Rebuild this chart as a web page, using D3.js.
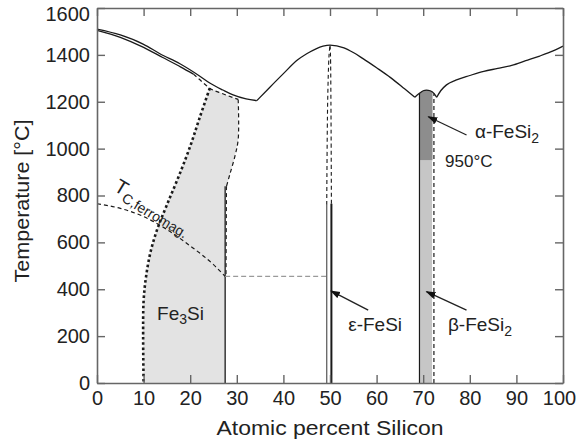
<!DOCTYPE html>
<html>
<head>
<meta charset="utf-8">
<script src="https://cdn.jsdelivr.net/npm/d3@7"></script>
<style>
  body { margin: 0; background: #fff; }
  svg { font-family: "Liberation Sans", Arial, Helvetica, sans-serif; }
</style>
</head>
<body>
<script>
// Fe-Si phase diagram, points are [at.% Si, temperature in C]
const xTicks = d3.range(0, 101, 10);
const yTicks = d3.range(0, 1601, 200);

const liquidusFe = [[0,1510],[5,1485],[10,1445],[13.5,1405],[17.8,1362],[22,1310],[24.2,1280],[27,1250],[29.2,1229],[32,1212],[34.3,1205]];
const solidusFe = [[0,1505],[5,1475],[10,1432],[14,1390],[18,1348],[20.7,1318]];
const solidusFeDash = [[20.7,1318],[22.5,1286],[24.2,1258],[27,1234],[30.3,1210]];
const liquidusMid = [[34.3,1205],[37,1260],[40,1320],[43,1378],[45,1405],[47,1426],[48.5,1437],[50,1442],[53,1430],[55,1410],[57,1385],[60,1345],[63,1303],[66,1255],[68.2,1219]];
const capFeSi2 = [[68.2,1219],[69.2,1236],[70,1247],[70.7,1250],[71.5,1247],[72.3,1236],[72.9,1219]];
const liquidusSi = [[72.9,1219],[73.8,1248],[75,1272],[77,1292],[80,1312],[83,1330],[86,1342],[89,1355],[92,1375],[95,1395],[98,1418],[100,1437]];

const fe3siLeft = [[24.2,1258],[22,1130],[20,1010],[17.5,880],[15,760],[13,660],[11.5,560],[10.5,450],[10,350],[9.9,200],[10,0]];
const fe3siRightDash = [[30.3,1210],[30.3,1040],[29.5,960],[28.5,890],[27.8,840]];
const fe3siRightDash2 = [[27.8,840],[27.7,455]];
const fe3siRight = [[27.5,840],[27.5,0]];
const fe3siTop = [[30.3,1210],[27,1234],[24.2,1258]];
const curie = [[0,765],[5,745],[10,710],[15,655],[20,585],[25,505],[27.5,455]];
const orderLine = [[27.5,455],[49.3,455]];

const fesiLeft = [[49.3,0],[49.3,760]];
const fesiLeftDash = [[49.3,760],[49.5,1200],[49.8,1400],[50,1442]];
const fesiRight = [[50.3,0],[50.3,765]];
const fesiRightDash = [[50.3,765],[50.2,1200],[50.1,1400],[50,1442]];

const fesi2Left = [[69.2,0],[69.2,1236]];
const fesi2RightDash = [[72.3,0],[72.3,1236]];
const alphaArea = [[69.2,950],[69.2,1236],[70,1247],[70.7,1250],[71.5,1247],[72,1240],[72,950]];
const betaArea = [[69.2,0],[69.2,950],[71.9,950],[71.9,0]];

const arrows = [
  [[79.3,1058],[71.1,1136]],
  [[58.2,311],[50.2,393]],
  [[79.3,311],[70.7,390]]
];

const width = 576, height = 442;
const x = d3.scaleLinear().domain([0, 100]).range([97, 563]);
const y = d3.scaleLinear().domain([0, 1600]).range([383, 8]);

const svg = d3.select("body").append("svg")
  .attr("width", width).attr("height", height);

const line = d3.line().x(d => x(d[0])).y(d => y(d[1]));
const smooth = d3.line().x(d => x(d[0])).y(d => y(d[1])).curve(d3.curveMonotoneX);
const smoothY = d3.line().x(d => x(d[0])).y(d => y(d[1])).curve(d3.curveCatmullRom);

svg.append("defs").append("marker")
  .attr("id", "head")
  .attr("markerUnits", "userSpaceOnUse")
  .attr("markerWidth", 10).attr("markerHeight", 8)
  .attr("refX", 9).attr("refY", 3.5)
  .attr("orient", "auto")
  .append("path").attr("d", "M0,0L10,3.5L0,7Z").attr("fill", "#111");

// fills
const fe3siArea = fe3siLeft.concat([[27.5,0],[27.5,840]], fe3siRightDash.slice().reverse(), fe3siTop.slice(1));
svg.append("path").attr("d", line(fe3siArea) + "Z").attr("fill", "#e3e3e3");
svg.append("path").attr("d", line(betaArea) + "Z").attr("fill", "#c6c6c6");
svg.append("path").attr("d", smooth(alphaArea) + "Z").attr("fill", "#8d8d8d");

function draw(pts, gen, opts) {
  return svg.append("path")
    .attr("d", gen(pts))
    .attr("fill", "none")
    .attr("stroke", opts.color || "#1a1a1a")
    .attr("stroke-width", opts.w || 1.3)
    .attr("stroke-dasharray", opts.dash || null);
}

// liquidus and solidus
draw(liquidusFe, smooth, {});
draw(solidusFe, smooth, {});
draw(solidusFeDash, smooth, {dash: "4,3", w: 1.2});
draw(liquidusMid, smooth, {});
draw(capFeSi2, smooth, {});
draw(liquidusSi, smooth, {});

// Fe3Si region
draw(fe3siLeft, smoothY, {dash: "2.6,2.6", w: 2.6});
draw(fe3siRightDash, smoothY, {dash: "4,3", w: 1.2});
draw(fe3siRightDash2, line, {dash: "4,3", w: 1});
draw(fe3siRight, line, {});
draw(curie, smooth, {dash: "4,3", w: 1.2});
draw(orderLine, line, {dash: "5,3", w: 1.3, color: "#9a9a9a"});

// FeSi
draw(fesiLeft, line, {w: 1.2, color: "#555"});
draw(fesiLeftDash, smoothY, {dash: "4,3", w: 1.1});
draw(fesiRight, line, {w: 2});
draw(fesiRightDash, smoothY, {dash: "4,3", w: 1.1});

// FeSi2
draw(fesi2Left, line, {w: 1.2});
draw(fesi2RightDash, line, {dash: "4,3", w: 1.2});

// arrows
arrows.forEach(a => {
  svg.append("line")
    .attr("x1", x(a[0][0])).attr("y1", y(a[0][1]))
    .attr("x2", x(a[1][0])).attr("y2", y(a[1][1]))
    .attr("stroke", "#222").attr("stroke-width", 1.3)
    .attr("marker-end", "url(#head)");
});

// axes
const axisColor = "#666";
function styleAxis(g) {
  g.select(".domain").attr("stroke", axisColor).attr("stroke-width", 1.6);
  g.selectAll(".tick line").attr("stroke", axisColor).attr("stroke-width", 1.4);
  g.selectAll(".tick text").attr("fill", "#222").style("font-size", "20px").style("font-family", "Liberation Sans, Arial, sans-serif");
}
const gx = svg.append("g").attr("transform", "translate(0,383)")
  .call(d3.axisBottom(x).tickValues(xTicks).tickFormat(d3.format("d")).tickSizeInner(-8).tickSizeOuter(0).tickPadding(8))
  .call(styleAxis);
// last label sits against the right edge, like the original
gx.selectAll(".tick text").filter(d => d === 100).attr("x", -4);
const gy = svg.append("g").attr("transform", "translate(97,0)")
  .call(d3.axisLeft(y).tickValues(yTicks).tickFormat(d3.format("d")).tickSizeInner(-8).tickSizeOuter(0).tickPadding(7))
  .call(styleAxis);
gy.selectAll(".tick text").filter(d => d === 1600).attr("dy", "0.62em");
svg.append("g").attr("transform", "translate(0,8)")
  .call(d3.axisTop(x).tickValues(xTicks).tickSizeInner(-8).tickSizeOuter(0).tickFormat(""))
  .call(styleAxis);
svg.append("g").attr("transform", "translate(563,0)")
  .call(d3.axisRight(y).tickValues(yTicks).tickSizeInner(-8).tickSizeOuter(0).tickFormat(""))
  .call(styleAxis);

// axis titles
svg.append("text")
  .attr("transform", "translate(330,435)")
  .attr("text-anchor", "middle").attr("font-size", 20).attr("fill", "#222")
  .attr("textLength", 227).attr("lengthAdjust", "spacingAndGlyphs")
  .text("Atomic percent Silicon");
svg.append("text")
  .attr("transform", "translate(29,201) rotate(-90)")
  .attr("text-anchor", "middle").attr("font-size", 20).attr("fill", "#222")
  .attr("textLength", 163).attr("lengthAdjust", "spacingAndGlyphs")
  .text("Temperature [°C]");

// labels
function label(at, parts, rot) {
  const t = svg.append("text")
    .attr("transform", `translate(${x(at[0])},${y(at[1])})` + (rot ? ` rotate(${rot})` : ""))
    .attr("fill", "#222");
  parts.forEach(p => {
    t.append("tspan")
      .attr("font-size", p[1])
      .attr("dy", p[2] || 0)
      .text(p[0]);
  });
}
label([12.9, 269], [["Fe", 19], ["3", 14, 4], ["Si", 19, -4]]);
label([53.9, 222], [["ε-FeSi", 19]]);
label([75.3, 222], [["β-FeSi", 19], ["2", 14, 5]]);
label([81.1, 1045], [["α-FeSi", 19], ["2", 14, 5]]);
label([74.7, 922], [["950°C", 17]]);
label([3.4, 823], [["T", 20], ["C,ferromag.", 14, 5]], 31);
</script>
</body>
</html>
